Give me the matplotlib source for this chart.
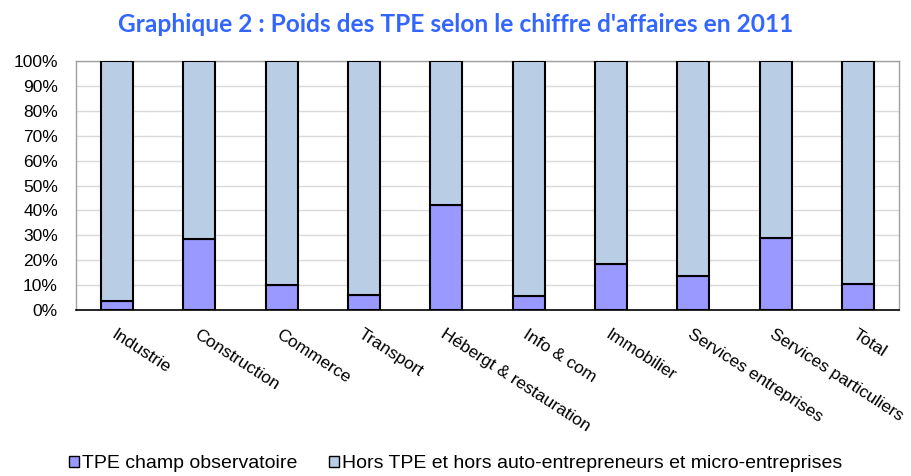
import numpy as np
import matplotlib as mpl
from matplotlib import pyplot as plt
from matplotlib.ticker import FuncFormatter

categories = ['Industrie', 'Construction', 'Commerce', 'Transport',
              'Hébergt & restauration', 'Info & com', 'Immobilier',
              'Services entreprises', 'Services particuliers', 'Total']
tpe = [3.7, 28.4, 10.0, 5.9, 42.3, 5.5, 18.5, 13.8, 29.0, 10.6]
hors_tpe = [100.0 - v for v in tpe]

labels = ['TPE champ observatoire',
          'Hors TPE et hors auto-entrepreneurs et micro-entreprises']
colors = ['#9999FF', '#B9CDE5']
title = "Graphique 2 : Poids des TPE selon le chiffre d'affaires en 2011"

mpl.rcParams['font.family'] = 'Liberation Sans'

f = plt.figure(figsize=(9.11, 4.76), dpi=100)
ax1 = f.add_axes([76 / 911, 1 - 310 / 476, 823 / 911, 249 / 476])

x = np.arange(len(categories))
ax1.bar(x, tpe, width=0.39, color=colors[0], edgecolor='black',
        linewidth=1.5, label=labels[0], zorder=3)
ax1.bar(x, hors_tpe, bottom=tpe, width=0.39, color=colors[1],
        edgecolor='black', linewidth=1.5, label=labels[1], zorder=3)

ax1.set_xlim(-0.5, len(categories) - 0.5)
ax1.set_ylim(0, 100)
ax1.set_yticks(np.arange(0, 101, 10))
ax1.yaxis.set_major_formatter(FuncFormatter(lambda v, p: '%d%%' % v))
ax1.tick_params(axis='y', length=0, labelsize=12.5, pad=13)
ax1.tick_params(axis='x', length=0)
ax1.set_xticks(x)
ax1.set_xticklabels(categories, rotation=-33, ha='left', va='top',
                    rotation_mode='anchor', fontsize=12.5)
ax1.tick_params(axis='x', pad=12)

ax1.grid(axis='y', color='#D9D9D9', linewidth=1.0, zorder=0)
for side in ['top', 'right', 'left']:
    ax1.spines[side].set_color('#A0A0A0')
    ax1.spines[side].set_linewidth(1.0)
ax1.spines['bottom'].set_color('black')
ax1.spines['bottom'].set_linewidth(1.2)

# title, scaled to the width it has in the reference (~679 px)
t = f.text(0.5, 1 - 25 / 476, title, ha='center', va='center',
           fontsize=16, fontweight='bold', color='#3366FF', family='Lato')
f.canvas.draw()
w = t.get_window_extent().width
t.set_fontsize(16 * 679.0 / w)

leg = f.legend(loc='center', bbox_to_anchor=(0.5, 1 - 464 / 476), ncol=2,
               frameon=False, fontsize=14, handlelength=0.55,
               handleheight=0.55, handletextpad=0.15, columnspacing=1.6)
for h in leg.legend_handles:
    h.set_linewidth(1.0)

f.savefig('out.png', dpi=100)
